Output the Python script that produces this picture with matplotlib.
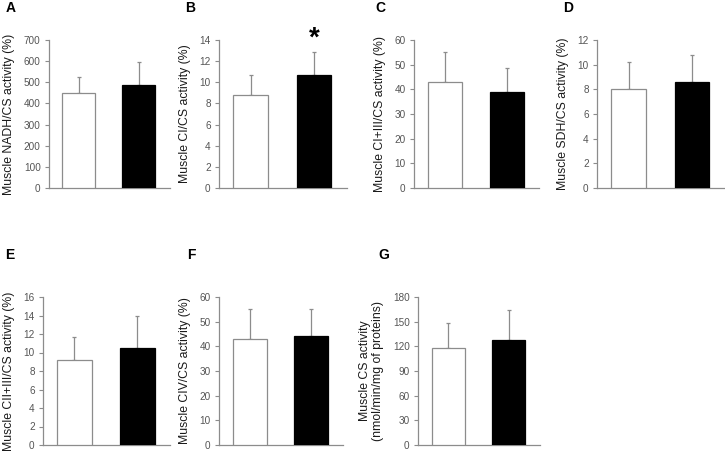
import matplotlib.pyplot as plt

plt.rcParams['font.family'] = ['Liberation Sans', 'DejaVu Sans']

# panel data: white bar (control), black bar (treated), upper SD
letters = ['A', 'B', 'C', 'D', 'E', 'F', 'G']
ylabels = ['Muscle NADH/CS activity (%)',
           'Muscle CI/CS activity (%)',
           'Muscle CI+III/CS activity (%)',
           'Muscle SDH/CS activity (%)',
           'Muscle CII+III/CS activity (%)',
           'Muscle CIV/CS activity (%)',
           'Muscle CS activity\n(nmol/min/mg of proteins)']
white_means = [448, 8.8, 42.8, 8.0, 9.2, 43, 118]
white_sd = [78, 1.9, 12.2, 2.2, 2.5, 12, 30]
black_means = [486, 10.7, 39.0, 8.6, 10.5, 44, 128]
black_sd = [108, 2.2, 9.8, 2.2, 3.5, 11, 36]
ymax = [700, 14, 60, 12, 16, 60, 180]
ystep = [100, 2, 10, 2, 2, 10, 30]
signif = [False, True, False, False, False, False, False]

W, H = 725, 451
# axes extents in pixels: left, right, top, bottom
boxes = [(49, 170, 40, 188), (219, 347, 40, 188), (414, 539, 40, 188),
         (597, 725, 40, 188), (43, 170, 297, 445), (219, 343, 297, 445),
         (418, 540, 297, 445)]
letter_pos = [(6, 8), (185, 8), (375, 8), (563, 8), (5, 255), (187, 255), (378, 255)]

grey = '#8c8c8c'
fig = plt.figure(figsize=(W / 100, H / 100), dpi=100)

for i in range(7):
    l, r, t, b = boxes[i]
    ax = fig.add_axes([l / W, 1 - b / H, (r - l) / W, (b - t) / H])
    ax.bar([1, 2], [white_means[i], black_means[i]], width=0.55,
           color=['white', 'black'], edgecolor=[grey, 'black'], linewidth=0.9, zorder=3)
    ax.errorbar([1, 2], [white_means[i], black_means[i]],
                yerr=[[0, 0], [white_sd[i], black_sd[i]]], fmt='none',
                ecolor=grey, elinewidth=0.9, capsize=1.5, capthick=0.9, zorder=2)
    if signif[i]:
        ax.text(2, black_means[i] + black_sd[i] + ymax[i] * 0.085, '*',
                ha='center', va='center', fontsize=20, fontweight='bold', clip_on=False)
    ax.set_xlim(0.5, 2.52)
    ax.set_ylim(0, ymax[i])
    ax.set_yticks(range(0, ymax[i] + 1, ystep[i]))
    ax.set_xticks([])
    for s in ['top', 'right']:
        ax.spines[s].set_visible(False)
    for s in ['left', 'bottom']:
        ax.spines[s].set_color(grey)
        ax.spines[s].set_linewidth(0.9)
    ax.tick_params(axis='y', length=3, width=0.8, color=grey, labelsize=7.2,
                   labelcolor='#555555', pad=3)
    ax.set_ylabel(ylabels[i], fontsize=8.8, color='#1a1a1a', labelpad=6)
    fig.text(letter_pos[i][0] / W, 1 - letter_pos[i][1] / H, letters[i],
             fontsize=10, fontweight='bold', ha='left', va='center')

fig.savefig('out.png', dpi=100)
